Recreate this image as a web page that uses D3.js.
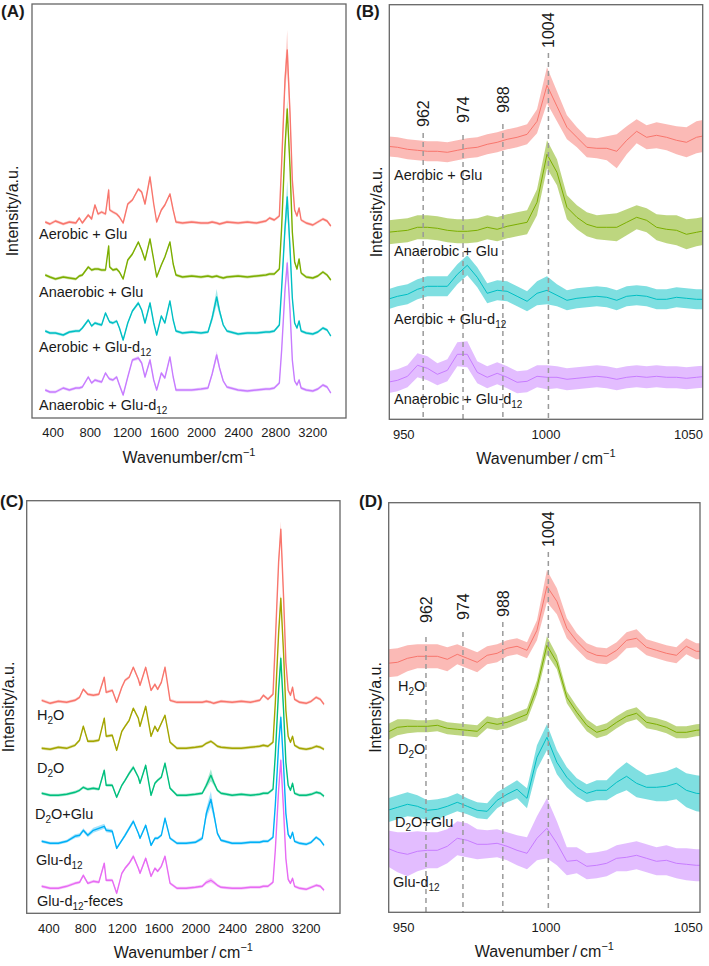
<!DOCTYPE html>
<html><head><meta charset="utf-8">
<script src="https://cdn.jsdelivr.net/npm/d3@7"></script>
<style>body{margin:0;background:#fff} text{font-family:Arial,"Liberation Sans",sans-serif;fill:#1a1a1a}</style>
</head><body><svg id="c" width="709" height="966"></svg>
<script>
// ---------- DATA ----------
// Panel A / C: full spectra (heights above each trace's own baseline, a.u.)
const wnA = [320,370,430,514,580,650,687,720,784,820,856,890,928,970,1004,1015,1050,1090,1120,1160,1210,1260,1324,1360,1396,1450,1490,1522,1572,1610,1665,1700,1730,1800,1900,2000,2075,2120,2169,2200,2240,2280,2400,2500,2600,2700,2740,2790,2845,2870,2906,2930,2960,2985,3010,3035,3058,3080,3135,3206,3260,3315,3360,3400];
const aerobicGluA = [1,-1,2,-1,1,0,5,0,8,4, 18,9,11,9,33,13,11,9,6,0, 19,23,34,31,19,46,19,1,13,18, 29,13,1,0,1,0,0,1,0,-1, 0,1,0,1,0,2,5,3,7,60, 143,173,110,43,13,7,15,3,0,-2, 1,4,2,-3];
const anaerobicGluA = [2,0,-2,0,-1,-2,1,2,10,7, 8,8,7,7,31,10,7,8,5,-2, 17,23,35,27,17,38,17,0,12,20, 35,13,2,0,1,0,1,0,1,0, -1,0,1,0,1,2,3,3,8,50, 130,168,110,45,15,8,18,4,0,-1, 1,5,2,-3];
const aerobicD12A = [2,0,0,-2,1,2,2,5,13,7, 10,9,8,20,13,11,10,12,5,-7, 10,22,30,23,10,30,10,-2,17,10, 32,13,2,0,1,0,1,15,36,22, 8,2,-1,0,0,1,1,2,8,45, 105,136,85,35,10,5,12,2,0,-1, 1,5,3,-3];
const anaerobicD12A = [0,-2,-2,2,0,2,2,3,13,7, 10,9,8,17,12,11,10,13,5,-5, 13,30,32,27,13,30,10,0,17,12, 33,13,0,0,0,1,2,16,35,22, 9,3,0,-1,0,1,1,2,7,40, 100,127,80,30,9,5,10,2,0,-1, 1,5,3,-3];
const sdAerobicGluA = [1.5,1.5,1.5,1.5,1.5,1.5,1.5,1.5,1.5,1.5, 1.5,1.5,1.5,1.5,3,1.5,1.5,1.5,1.5,1.5, 1.5,1.5,1.5,1.5,1.5,3,1.5,1.5,1.5,1.5, 1.5,1.5,1.5,1.5,1.5,1.5,1.5,1.5,1.5,1.5, 1.5,1.5,1.5,1.5,1.5,1.5,1.5,1.5,1.5,6, 12,20,10,4,1.5,1.5,1.5,1.5,1.5,1.5, 1.5,1.5,1.5,1.5];
const sdAnaerobicGluA = [1.5,1.5,1.5,1.5,1.5,1.5,1.5,1.5,1.5,1.5, 1.5,1.5,1.5,1.5,2,1.5,1.5,1.5,1.5,1.5, 1.5,1.5,1.5,1.5,1.5,2,1.5,1.5,1.5,1.5, 1.5,1.5,1.5,1.5,1.5,1.5,1.5,1.5,1.5,1.5, 1.5,1.5,1.5,1.5,1.5,1.5,1.5,1.5,1.5,3, 6,10,6,3,1.5,1.5,1.5,1.5,1.5,1.5, 1.5,1.5,1.5,1.5];
const sdAerobicD12A = [1.5,1.5,1.5,1.5,1.5,1.5,1.5,1.5,1.5,1.5, 1.5,1.5,1.5,1.5,1.5,1.5,1.5,1.5,1.5,1.5, 1.5,1.5,2,1.5,1.5,2,1.5,1.5,1.5,1.5, 1.5,1.5,1.5,1.5,1.5,1.5,1.5,4,8,4, 1.5,1.5,1.5,1.5,1.5,1.5,1.5,1.5,1.5,4, 8,17,8,3,1.5,1.5,1.5,1.5,1.5,1.5, 1.5,1.5,1.5,1.5];
const sdAnaerobicD12A = [1.5,1.5,1.5,1.5,1.5,1.5,1.5,1.5,1.5,1.5, 1.5,1.5,1.5,1.5,1.5,1.5,1.5,1.5,1.5,1.5, 1.5,1.5,2,1.5,1.5,2,1.5,1.5,1.5,1.5, 1.5,1.5,1.5,1.5,1.5,1.5,1.5,2,4,2, 1.5,1.5,1.5,1.5,1.5,1.5,1.5,1.5,1.5,2, 4,6,4,2,1.5,1.5,1.5,1.5,1.5,1.5, 1.5,1.5,1.5,1.5];
const offsetsA = [195, 141, 85, 28];
const labelsA = ["Aerobic + Glu", "Anaerobic + Glu", "Aerobic + Glu-d_{12}", "Anaerobic + Glu-d_{12}"];

const wnC = [328,420,509,600,690,740,781,830,890,950, 1009,1030,1096,1144,1200,1235,1280,1325,1380,1398, 1460,1518,1560,1590,1630,1670,1725,1800, 1900,2000,2075,2120,2169,2200,2240,2280,2400,2500, 2600,2700,2740,2790,2845,2870,2906,2930,2960,2985, 3010,3035,3058,3080,3135,3206,3260,3315,3360,3400];
const h2oC = [2,-1,1,0,2,5,13,8,7,8, 25,10,12,0,15,22,25,35,23,17, 35,12,18,13,20,35,2,0, 0,0,0,1,0,-1,0,1,0,1, 0,2,7,3,8,60,140,173,105,40, 12,7,15,3,0,-1,1,5,3,-2];
const d2oC = [0,-1,1,0,3,8,22,7,7,8, 30,12,13,-2,17,22,28,40,30,22, 42,12,22,17,25,33,6,0, 0,1,2,5,7,5,2,1,0,0, 1,2,3,2,6,45,115,150,95,38, 12,6,12,3,0,-1,0,2,1,-1];
const d2oGluC = [2,0,0,1,3,5,8,6,7,6, 25,10,10,-2,10,15,22,28,18,12, 30,0,12,15,18,32,7,0, 0,1,2,10,20,13,5,2,0,1, 0,1,2,2,6,40,105,137,85,33, 10,5,12,2,0,0,1,3,2,-1];
const gluD12C = [2,0,0,2,7,8,13,8,13,15, 17,13,12,-5,3,8,15,22,10,5, 18,-2,5,5,8,25,5,0, 0,1,5,30,44,30,10,3,0,0, 1,1,2,2,6,38,98,126,78,30, 9,5,11,2,0,-1,1,6,3,-2];
const gluD12FecesC = [2,0,0,2,5,6,13,5,7,6, 25,8,8,-5,15,20,25,32,20,15, 30,12,20,17,22,32,5,0, 0,1,2,6,8,6,3,1,0,0, 1,1,2,2,6,38,98,128,78,30, 9,5,10,2,0,-1,1,3,2,-2];
const sdH2oC = [1.5,1.5,1.5,1.5,1.5,1.5,1.5,1.5,1.5,1.5, 2,1.5,1.5,1.5,1.5,1.5,1.5,1.5,1.5,1.5, 1.5,1.5,1.5,1.5,1.5,1.5,1.5,1.5, 1.5,1.5,1.5,1.5,1.5,1.5,1.5,1.5,1.5,1.5, 1.5,1.5,1.5,1.5,1.5,3,5,8,4,2, 1.5,1.5,1.5,1.5,1.5,1.5,1.5,1.5,1.5,1.5];
const sdD2oC = [1.5,1.5,1.5,1.5,1.5,1.5,1.5,1.5,1.5,1.5, 2,1.5,1.5,1.5,1.5,1.5,1.5,1.5,1.5,1.5, 1.5,1.5,1.5,1.5,1.5,1.5,1.5,1.5, 1.5,1.5,1.5,1.5,1.5,1.5,1.5,1.5,1.5,1.5, 1.5,1.5,1.5,1.5,1.5,2,3,5,3,2, 1.5,1.5,1.5,1.5,1.5,1.5,1.5,1.5,1.5,1.5];
const sdD2oGluC = [1.5,1.5,1.5,1.5,1.5,1.5,1.5,1.5,1.5,1.5, 2,1.5,1.5,1.5,1.5,1.5,2,2,1.5,1.5, 2,1.5,1.5,1.5,1.5,2,1.5,1.5, 1.5,1.5,1.5,3,6,3,1.5,1.5,1.5,1.5, 1.5,1.5,1.5,1.5,1.5,2,3,5,3,2, 1.5,1.5,2,1.5,1.5,1.5,1.5,1.5,1.5,1.5];
const sdGluD12C = [1.5,1.5,1.5,1.5,2,2,2,2,2.5,2.5, 2.5,2,2,1.5,1.5,2,2,2,1.5,1.5, 2,1.5,1.5,1.5,1.5,2,1.5,1.5, 1.5,1.5,2,5,8,5,2,1.5,1.5,1.5, 1.5,1.5,1.5,1.5,1.5,2,3,5,3,2, 1.5,1.5,1.5,1.5,1.5,1.5,1.5,1.5,1.5,1.5];
const sdGluD12FecesC = [1.5,1.5,1.5,1.5,1.5,1.5,1.5,1.5,1.5,1.5, 2,1.5,1.5,1.5,1.5,1.5,1.5,2,1.5,1.5, 2,1.5,1.5,1.5,1.5,2,1.5,1.5, 1.5,1.5,1.5,2,2.5,2,1.5,1.5,1.5,1.5, 1.5,1.5,1.5,1.5,1.5,2,3,4,3,2, 1.5,1.5,1.5,1.5,1.5,1.5,1.5,1.5,1.5,1.5];
const offsetsC = [211, 165, 118, 70, 25];
const labelsC = ["H_{2}O", "D_{2}O", "D_{2}O+Glu", "Glu-d_{12}", "Glu-d_{12}-feces"];

// Panels B / D: zoom on the 950–1050 cm-1 region
const wnZoom = [944.5,948,951.5,955,958.5,962,965.5,969,972.5,976, 979.5,983,986.5,990,993.5,997,1000.5,1004,1007.5,1011, 1014.5,1018,1021.5,1025,1028.5,1032,1035.5,1039,1042.5,1046, 1049.5,1053,1056.5];
const aerobicGluB = [0,-1,-3,-4,-5,-5,-6,-4,-2,-1, 2,4,7,9,12,25,61,40,19,9, -1,-2,-2,-5,6,15,9,11,9,6, 4,9,11];
const anaerobicGluB = [0,1,2,5,5,4,2,1,1,2, 5,3,6,8,10,30,78,60,25,15, 8,5,5,5,10,15,12,5,3,2, -2,0,2];
const aerobicD12B = [0,3,5,10,13,13,13,25,34,22, 6,9,8,3,-2,6,9,4,-1,1, 2,3,2,-1,3,4,3,0,0,2, 1,0,0];
const anaerobicD12B = [0,2,6,17,14,8,12,28,28,10, 5,9,5,0,1,6,5,5,3,4, 5,6,5,3,5,6,5,6,5,5, 4,5,6];
const sdAerobicGluB = [10,10,10,10,10,10,10,10,10,10, 10,10,10,10,10,12,18,15,12,10, 10,10,12,17,14,12,12,13,13,14, 15,16,16];
const sdAnaerobicGluB = [12,12,12,12,12,12,12,12,12,12, 12,12,12,12,12,13,14,13,12,12, 12,12,13,14,13,12,12,13,14,15, 15,14,14];
const sdAerobicD12B = [10,10,10,10,10,10,10,10,10,10, 10,10,10,10,10,12,14,11,10,10, 10,10,10,10,10,10,10,10,10,10, 10,10,10];
const sdAnaerobicD12B = [11,11,11,12,12,11,11,12,13,11, 11,11,11,11,11,11,12,11,11,11, 11,11,11,11,11,11,11,11,11,11, 11,11,11];
const offsetsB = [273, 187, 120, 37];

const h2oD = [0,1,5,7,7,7,4,9,5,1, 8,10,15,17,13,33,77,62,35,22, 12,8,7,13,23,25,16,13,10,8, 17,12,12];
const d2oD = [0,5,6,6,6,7,4,3,2,1, 10,8,10,14,18,45,87,70,35,20, 7,0,3,10,16,19,10,8,5,0, 0,2,3];
const d2oGluD = [0,3,6,4,0,1,4,8,4,0, -1,10,16,21,12,53,73,48,33,23, 17,20,20,28,34,27,23,23,24,27, 20,17,16];
const gluD12D = [0,-4,-6,-3,-2,-2,2,10,8,4, 4,5,2,-2,-5,10,20,5,-13,-12, -18,-17,-15,-10,-9,-7,-10,-13,-12,-15, -16,-17,-17];
const sdH2oD = [14,14,13,12,12,12,12,10,10,10, 9,9,8,8,8,10,16,13,10,8, 8,8,8,8,8,9,8,8,8,8, 8,8,8];
const sdD2oD = [8,8,7,6,6,6,6,6,6,6, 6,6,6,6,6,7,9,7,6,6, 6,6,6,6,6,6,6,6,6,6, 6,6,6];
const sdD2oGluD = [12,12,12,11,10,10,9,9,8,8, 8,8,8,9,10,12,13,12,10,9, 9,10,10,12,14,14,12,14,15,16, 17,18,18];
const sdGluD12D = [18,20,22,20,18,18,17,17,17,15, 14,14,14,15,16,22,30,22,14,13, 13,13,13,13,14,14,14,14,15,15, 16,16,16];
const offsetsD = [249, 180, 102, 64];
const labelsD = ["H_{2}O", "D_{2}O", "D_{2}O+Glu", "Glu-d_{12}"];

const markerPosB = [957, 971, 985, 1001];
const markerPosD = [958, 971, 985, 1001];
const markerLabels = ["962", "974", "988", "1004"];
const ticksFull = [400, 800, 1200, 1600, 2000, 2400, 2800, 3200];
const ticksZoom = [950, 1000, 1050];

// ---------- STYLE / LAYOUT ----------
const col4 = ["#F8766D", "#7CAE00", "#00BFC4", "#C77CFF"];
const col5 = ["#F8766D", "#A3A500", "#00BF7D", "#00B0F6", "#E76BF3"];

const panels = [
  { letter: "(A)", lx: 1, ly: 17, left: 32, right: 346, top: 4, bottom: 418, xDomain: [177, 3564], ticks: ticksFull,
    grid: wnA, values: [aerobicGluA, anaerobicGluA, aerobicD12A, anaerobicD12A],
    sd: [sdAerobicGluA, sdAnaerobicGluA, sdAerobicD12A, sdAnaerobicD12A], offsets: offsetsA,
    colors: col4, labels: labelsA, labX: [39, 39, 39, 39], labY: [239, 297, 352, 410],
    bandOp: 0.35, lw: 1.4, yTitleX: 12, xTitle: "Wavenumber/cm" },
  { letter: "(B)", lx: 356, ly: 17, left: 389.3, right: 702.7, top: 4.7, bottom: 419.3, xDomain: [945.1, 1055.2], ticks: ticksZoom,
    grid: wnZoom, values: [aerobicGluB, anaerobicGluB, aerobicD12B, anaerobicD12B],
    sd: [sdAerobicGluB, sdAnaerobicGluB, sdAerobicD12B, sdAnaerobicD12B], offsets: offsetsB,
    colors: col4, labels: labelsA, labX: [394, 394, 394, 394], labY: [180, 256, 324, 404],
    bandOp: 0.5, lw: 1, yTitleX: 376, xTitle: "Wavenumber\u2009/\u2009cm",
    markers: markerPosB, markerLabelBottom: [127, 123, 113, 48], markerLineTop: [133, 135, 124, 53] },
  { letter: "(C)", lx: 0, ly: 507, left: 26.7, right: 340, top: 500.7, bottom: 913.3, xDomain: [165, 3574], ticks: ticksFull,
    grid: wnC, values: [h2oC, d2oC, d2oGluC, gluD12C, gluD12FecesC],
    sd: [sdH2oC, sdD2oC, sdD2oGluC, sdGluD12C, sdGluD12FecesC], offsets: offsetsC,
    colors: col5, labels: labelsC, labX: [37, 37, 35, 36, 37], labY: [720, 773, 819, 865, 906],
    bandOp: 0.35, lw: 1.4, yTitleX: 8, xTitle: "Wavenumber\u2009/\u2009cm" },
  { letter: "(D)", lx: 359, ly: 507, left: 388.7, right: 700, top: 502.7, bottom: 912.3, xDomain: [944.9, 1054.3], ticks: ticksZoom,
    grid: wnZoom, values: [h2oD, d2oD, d2oGluD, gluD12D],
    sd: [sdH2oD, sdD2oD, sdD2oGluD, sdGluD12D], offsets: offsetsD,
    colors: col4, labels: labelsD, labX: [398, 398, 395, 393], labY: [691, 754, 827, 887],
    bandOp: 0.5, lw: 1, yTitleX: 375, xTitle: "Wavenumber\u2009/\u2009cm",
    markers: markerPosD, markerLabelBottom: [623, 620, 617, 547], markerLineTop: [637, 632, 622, 552] }
];

const svg = d3.select("#c");
const defs = svg.append("defs");

function richText(sel, str, subSize) {
  const parts = str.split(/(_\{[^}]*\})/).filter(s => s.length);
  let sub = false;
  parts.forEach(p => {
    if (p.startsWith("_{")) {
      sel.append("tspan").attr("dy", 4).attr("font-size", subSize).text(p.slice(2, -1));
      sub = true;
    } else {
      const t = sel.append("tspan").text(p);
      if (sub) { t.attr("dy", -4); sub = false; }
    }
  });
}

panels.forEach((p, pi) => {
  const g = svg.append("g");
  const x = d3.scaleLinear().domain(p.xDomain).range([p.left, p.right]);
  const y = d3.scaleLinear().domain([0, p.bottom - p.top]).range([p.bottom, p.top]);
  const cid = "clip" + pi;
  defs.append("clipPath").attr("id", cid).append("rect")
    .attr("x", p.left).attr("y", p.top).attr("width", p.right - p.left).attr("height", p.bottom - p.top);
  const plot = g.append("g").attr("clip-path", `url(#${cid})`);

  p.values.forEach((vals, si) => {
    const pts = p.grid.map((w, i) => ({ w, v: vals[i] + p.offsets[si], s: p.sd[si][i] }));
    plot.append("path").datum(pts)
      .attr("d", d3.area().x(d => x(d.w)).y0(d => y(d.v - d.s)).y1(d => y(d.v + d.s)))
      .attr("fill", p.colors[si]).attr("opacity", p.bandOp);
    plot.append("path").datum(pts)
      .attr("d", d3.line().x(d => x(d.w)).y(d => y(d.v)))
      .attr("fill", "none").attr("stroke", p.colors[si]).attr("stroke-width", p.lw)
      .attr("stroke-linejoin", "round");
  });

  if (p.markers) {
    p.markers.forEach((m, i) => {
      g.append("line").attr("x1", x(m)).attr("x2", x(m))
        .attr("y1", p.markerLineTop[i]).attr("y2", p.bottom)
        .attr("stroke", "#9a9a9a").attr("stroke-width", 1.5).attr("stroke-dasharray", "5,4");
      g.append("text").attr("transform", `translate(${x(m)},${p.markerLabelBottom[i]}) rotate(-90)`)
        .attr("dy", "0.36em").attr("font-size", 16).attr("text-anchor", "start").text(markerLabels[i]);
    });
  }

  p.labels.forEach((lab, si) => {
    const t = g.append("text").attr("x", p.labX[si]).attr("y", p.labY[si]).attr("font-size", 14.5);
    richText(t, lab, 10);
  });

  g.append("rect").attr("x", p.left).attr("y", p.top).attr("width", p.right - p.left).attr("height", p.bottom - p.top)
    .attr("fill", "none").attr("stroke", "#666").attr("stroke-width", 1.3);

  const ax = g.append("g").attr("transform", `translate(0,${p.bottom})`)
    .call(d3.axisBottom(x).tickValues(p.ticks).tickSize(0).tickPadding(10).tickFormat(d3.format("d")));
  ax.select(".domain").remove();
  ax.selectAll("text").attr("font-size", 13).attr("fill", "#1a1a1a").attr("font-family", "Arial, 'Liberation Sans', sans-serif");

  const xt = g.append("text").attr("x", (p.left + p.right) / 2).attr("y", p.bottom + 45)
    .attr("text-anchor", "middle").attr("font-size", 16);
  xt.append("tspan").text(p.xTitle);
  xt.append("tspan").attr("dy", -7).attr("font-size", 11).text("\u22121");

  g.append("text").attr("transform", `translate(${p.yTitleX},${(p.top + p.bottom) / 2}) rotate(-90)`)
    .attr("text-anchor", "middle").attr("dy", "0.36em").attr("font-size", 16).text("Intensity/a.u.");

  g.append("text").attr("x", p.lx).attr("y", p.ly).attr("font-size", 17).attr("font-weight", "bold").text(p.letter);
});
</script>
</body></html>
